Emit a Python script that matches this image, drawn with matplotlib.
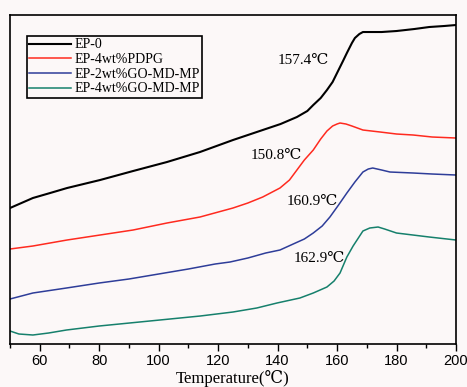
import matplotlib
matplotlib.use("Agg")
import matplotlib.pyplot as plt
from matplotlib.ticker import MultipleLocator

# DSC curves (heat flow, arbitrary units)
t_ep0 = [50, 57.7, 63.5, 69.2, 80.3, 91.4, 102.8, 113.9, 125, 130, 135, 141, 146.5, 150,
         152, 154.5, 156.6, 158.5, 160, 162, 163.3, 165, 166, 167.5, 168.7, 171,
         175, 180, 186, 191, 196, 200]
y_ep0 = [136, 146, 151, 156, 164, 173, 182, 192, 204, 209, 214, 220, 227, 233,
         239, 246, 254, 262, 271, 283, 291, 301, 306, 310, 312, 312,
         312, 313, 315, 317, 318, 319]

t_pdpg = [50, 57.7, 69.2, 80.3, 91.4, 102.8, 113.9, 125, 130, 135, 140.8, 144, 146.5, 149, 152,
          154.5, 156.6, 158.5, 160, 161, 163, 165, 168.7, 174.5, 180, 185.6, 192, 200]
y_pdpg = [95, 98, 104, 109, 114, 121, 127, 136, 141, 147, 156, 164, 174, 184, 194,
          205, 213, 218, 220, 221, 220, 218, 214, 212, 210, 209, 207, 206]

t_go2 = [50, 57.7, 69, 80, 90, 100, 110, 119, 124, 130, 136, 140.8, 146, 149, 152, 155, 157.6,
         160.5, 163.3, 166, 168.7, 170.5, 172, 175, 177.8, 185.6, 192, 200]
y_go2 = [45, 51, 56, 61, 65, 70, 75, 80, 82, 86, 91, 94, 101, 105, 111, 118, 127,
         139, 151, 162, 172, 175, 176, 174, 172, 171, 170, 169]

t_go4 = [50, 53, 57.7, 63, 69, 80, 97, 114, 125, 133, 139.8, 147.5, 152, 156.6,
         159, 161, 163.3, 165.4, 168.7, 171, 173.8, 176, 180, 191, 200]
y_go4 = [13, 10, 9, 11, 14, 18, 23, 28, 32, 36, 41, 46, 51, 57,
         63, 71, 87, 98, 113, 116, 117, 115, 111, 107, 104]

names = ["EP-0", "EP-4wt%PDPG", "EP-2wt%GO-MD-MP", "EP-4wt%GO-MD-MP"]
tg_labels = ["157.4\u2103", "150.8\u2103", "160.9\u2103", "162.9\u2103"]
tg_pos = [(148.5, 284), (139.5, 189), (151.6, 143), (153.9, 86)]

serif = ["Liberation Serif", "DejaVu Serif"]
bg = "#fcf8f8"

fig = plt.figure(figsize=(4.67, 3.87), dpi=100, facecolor=bg)
ax = fig.add_axes([0.0214, 0.1111, 0.955, 0.8501], facecolor=bg)

ax.plot(t_ep0, y_ep0, color="black", lw=1.5, label=names[0])
ax.plot(t_pdpg, y_pdpg, color="#ff2a1f", lw=1.1, label=names[1])
ax.plot(t_go2, y_go2, color="#2e3d99", lw=1.1, label=names[2])
ax.plot(t_go4, y_go4, color="#16806c", lw=1.1, label=names[3])

for s, (x, y) in zip(tg_labels, tg_pos):
    ax.text(x, y, s, family=serif, fontsize=11, ha="center", va="center")

ax.set_xlim(50, 200)
ax.set_ylim(0, 329)
ax.xaxis.set_major_locator(MultipleLocator(20))
ax.xaxis.set_minor_locator(MultipleLocator(10))
ax.set_yticks([])
ax.tick_params(axis="x", which="major", length=5, width=1, direction="out", labelsize=10.5, pad=2)
ax.tick_params(axis="x", which="minor", length=3, width=1, direction="out")
for lab in ax.get_xticklabels():
    lab.set_family("Liberation Sans")
for sp in ax.spines.values():
    sp.set_linewidth(1.2)

ax.set_xlabel("Temperature(\u2103)", family=serif, fontsize=12, labelpad=1.5)

leg = ax.legend(loc="upper left", bbox_to_anchor=(0.038, 0.935), prop={"family": serif, "size": 10},
                frameon=True, fancybox=False, edgecolor="black", facecolor=bg,
                handlelength=3.0, handletextpad=0.3, borderpad=0.15, labelspacing=0.12,
                borderaxespad=0)
leg.get_frame().set_linewidth(1.2)
leg.get_frame().set_alpha(None)

fig.savefig("out.png", dpi=100, facecolor=bg)
